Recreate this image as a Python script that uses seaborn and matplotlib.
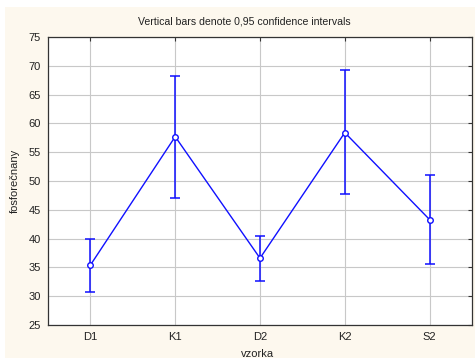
import matplotlib
matplotlib.use("Agg")
import matplotlib.pyplot as plt
import seaborn as sns
import pandas as pd
from matplotlib.patches import Rectangle

categories = ["D1", "K1", "D2", "K2", "S2"]
means = [35.4, 57.7, 36.6, 58.4, 43.3]
upper = [40.0, 68.3, 40.5, 69.2, 51.0]
lower = [30.8, 47.0, 32.6, 47.8, 35.6]
yticks = [25, 30, 35, 40, 45, 50, 55, 60, 65, 70, 75]

sns.set_style("white")
plt.rcParams['font.family'] = ['Liberation Sans', 'DejaVu Sans']

fig = plt.figure(figsize=(4.75, 3.58), dpi=100)
fig.patch.set_facecolor("white")
fig.patches.append(Rectangle((5/475, 0), 1 - 5/475, 1 - 7/358, transform=fig.transFigure,
                             facecolor="#fdf8ee", edgecolor="none", zorder=-10))
ax = fig.add_axes([48/475, 33/358, 424/475, 288/358])
ax.set_facecolor("white")

df = pd.DataFrame({"vzorka": categories, "fosforečnany": means})
blue = "#1010ff"
sns.pointplot(data=df, x="vzorka", y="fosforečnany", color=blue, errorbar=None,
              markers="o", linestyles="-", ax=ax, linewidth=1.0, markersize=4,
              markerfacecolor="white", markeredgecolor=blue, markeredgewidth=1.0, zorder=5)

xs = list(range(len(categories)))
yerr = [[m - l for m, l in zip(means, lower)], [u - m for u, m in zip(upper, means)]]
ax.errorbar(xs, means, yerr=yerr, fmt="none", ecolor=blue, elinewidth=1.1,
            capsize=3.5, capthick=1.1, zorder=4)

ax.set_xlim(-0.5, 4.5)
ax.set_ylim(25, 75)
ax.set_yticks(yticks)
ax.set_xticks(xs)
ax.set_xticklabels(categories)
ax.grid(True, color="#c8c8c8", linewidth=0.8)
ax.set_axisbelow(True)
for s in ax.spines.values():
    s.set_color("#333333")
    s.set_linewidth(0.9)
ax.tick_params(axis="both", direction="in", length=3, width=0.8, color="#333333",
               labelsize=8, labelcolor="#222222", top=True, right=True, pad=5)
ax.set_xlabel("vzorka", fontsize=8, color="#222222")
ax.xaxis.set_label_coords((258 - 48) / 424, -24/288)
ax.set_ylabel("fosforečnany", fontsize=8, color="#222222")
ax.yaxis.set_label_coords(-28/424, 0.5)
fig.text(244/475, 1 - 21/358, "Vertical bars denote 0,95 confidence intervals",
         ha="center", va="center", fontsize=7.6, color="#222222")

fig.savefig("out.png", dpi=100)
